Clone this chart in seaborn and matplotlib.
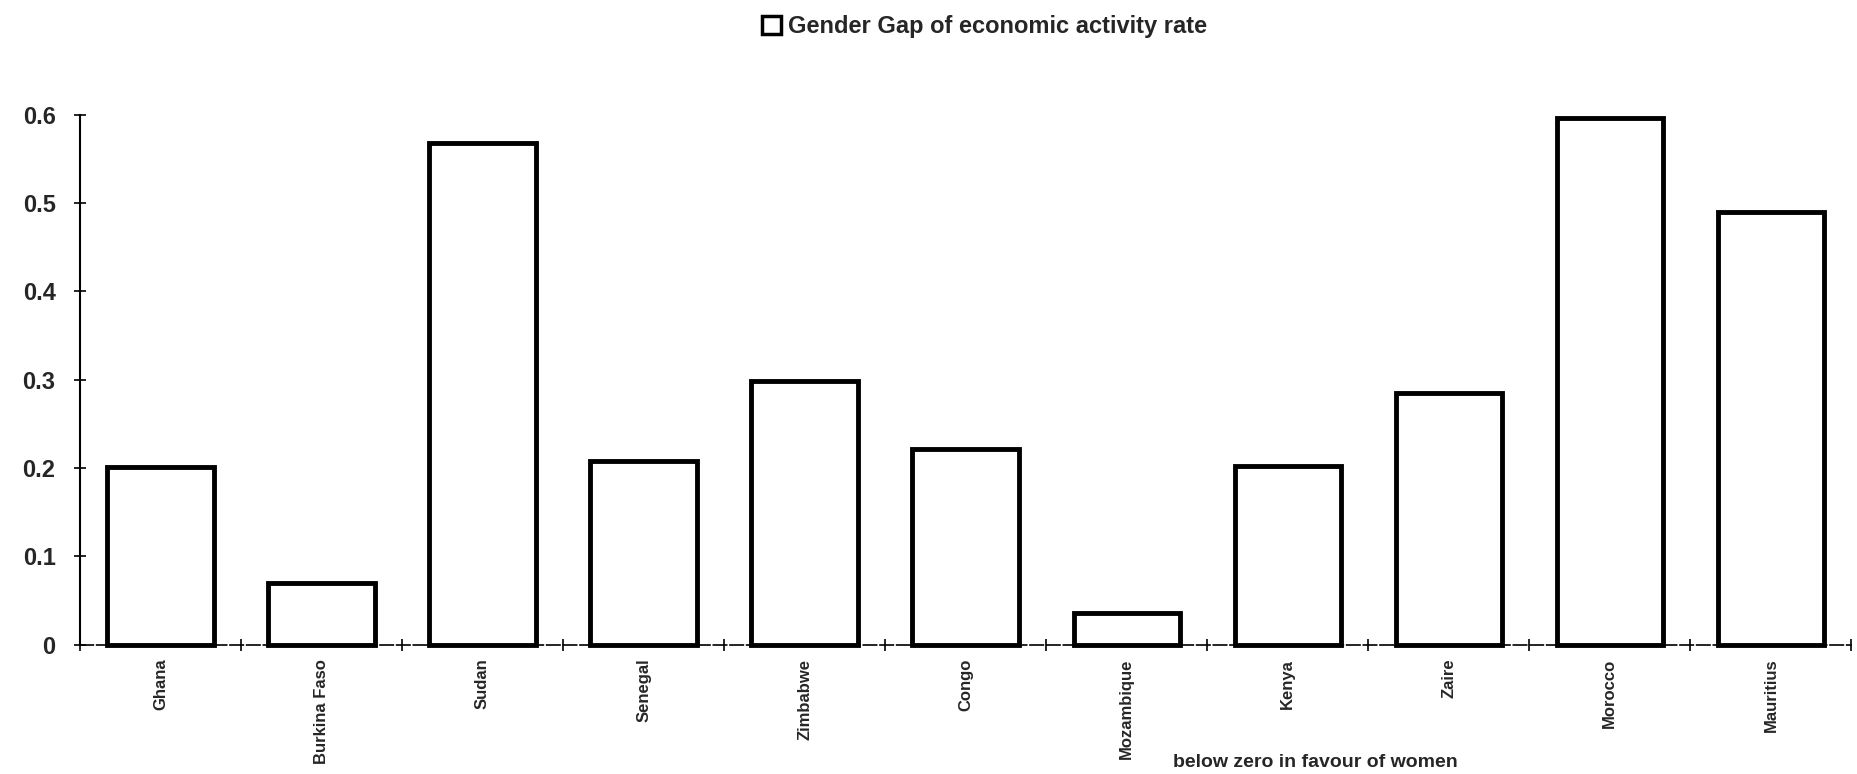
import matplotlib
matplotlib.use('Agg')
import matplotlib.pyplot as plt
import matplotlib.patches as mpatches
from matplotlib.ticker import FixedLocator
import seaborn as sns
import pandas as pd

countries = ['Ghana', 'Burkina Faso', 'Sudan', 'Senegal', 'Zimbabwe', 'Congo',
             'Mozambique', 'Kenya', 'Zaire', 'Morocco', 'Mauritius']
gap = [0.201, 0.070, 0.568, 0.208, 0.299, 0.222, 0.036, 0.202, 0.285, 0.596, 0.490]
yticks = [0, 0.1, 0.2, 0.3, 0.4, 0.5, 0.6]
ytick_labels = ['0', '0.1', '0.2', '0.3', '0.4', '0.5', '0.6']
legend_label = 'Gender Gap of economic activity rate'
note_text = 'below zero in favour of women'

sns.set_theme(style='white')
plt.rcParams['font.family'] = ['Liberation Sans', 'DejaVu Sans']
plt.rcParams['font.weight'] = 'bold'

fig = plt.figure(figsize=(18.57, 7.74), dpi=100)
ax = fig.add_axes([0.043, 0.167, 0.954, 0.685])

df = pd.DataFrame({'country': countries, 'gap': gap})
sns.barplot(data=df, x='country', y='gap', color='white', saturation=1,
            edgecolor='black', linewidth=3.5, width=0.66, ax=ax)
for p in ax.patches:
    p.set_clip_on(False)

ax.set_ylim(0, 0.6)
ax.set_xlim(-0.5, len(countries) - 0.5)
ax.set_yticks(yticks)
ax.set_yticklabels(ytick_labels, fontsize=17, fontweight='bold')
ax.tick_params(axis='y', direction='inout', length=9, width=1.2, color='black', pad=13, left=True)

ax.set_xticks(range(len(countries)))
ax.set_xticklabels(countries, rotation=90, fontsize=12, fontweight='bold', va='top')
ax.xaxis.set_minor_locator(FixedLocator([i - 0.5 for i in range(len(countries) + 1)]))
ax.tick_params(axis='x', which='major', length=0, pad=10)
ax.tick_params(axis='x', which='minor', direction='inout', length=9, width=1.2, color='black', bottom=True)

ax.set_xlabel('')
ax.set_ylabel('')
for s in ['top', 'right']:
    ax.spines[s].set_visible(False)
ax.spines['left'].set_linewidth(1.5)
ax.spines['left'].set_color('black')
ax.spines['bottom'].set_linewidth(1.2)
ax.spines['bottom'].set_color('black')
ax.spines['bottom'].set_linestyle((0, (8, 2)))

handle = mpatches.Patch(facecolor='white', edgecolor='black', linewidth=2.5)
fig.legend(handles=[handle], labels=[legend_label], loc='upper center',
           bbox_to_anchor=(0.53, 1.008), frameon=False,
           prop={'size': 17, 'weight': 'bold'}, handlelength=0.8, handleheight=0.8,
           handletextpad=0.3)

fig.text(0.785, 0.004, note_text, ha='right', va='bottom', fontsize=14, fontweight='bold')

fig.savefig('out.png', dpi=100, facecolor='white')
